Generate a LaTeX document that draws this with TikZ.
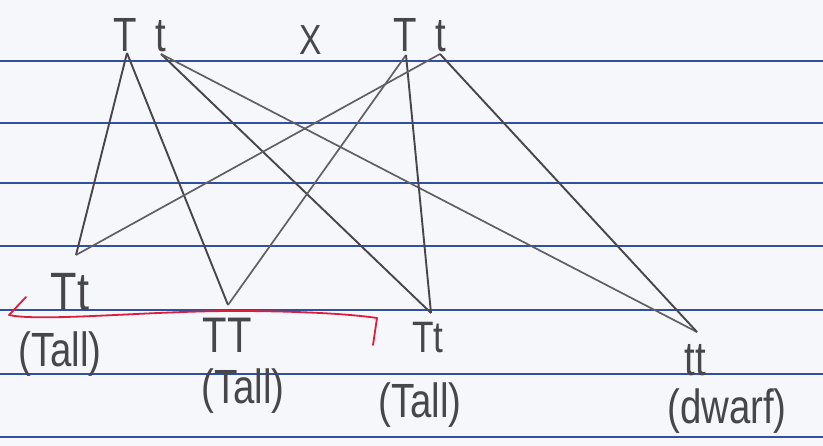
\documentclass[tikz,border=0pt]{standalone}
\usepackage{fontspec}
\setmainfont{Liberation Sans}
\usepackage{graphicx}
\definecolor{paper}{RGB}{246,247,251}
\definecolor{rulecol}{RGB}{52,78,160}
\definecolor{pencil}{RGB}{70,70,75}
\definecolor{pencilL}{RGB}{95,95,100}
\definecolor{redpen}{RGB}{220,30,60}
\newcommand{\hwtext}[1]{\scalebox{0.8}[1]{#1}}
\tikzset{
  rulestyle/.style={draw=rulecol, line width=2.2pt},
  hw/.style={text=pencil, inner sep=0pt, font=\fontsize{48}{48}\selectfont},
  hwbig/.style={hw, font=\fontsize{54}{54}\selectfont},
  hwmid/.style={hw, font=\fontsize{50}{50}\selectfont},
  hwsmall/.style={hw, font=\fontsize{44}{44}\selectfont},
  darkline/.style={draw=pencil, line width=1.9pt},
  lightline/.style={draw=pencilL, line width=1.7pt},
  redline/.style={draw=redpen, line width=1.8pt, line join=round, line cap=round}
}
\begin{document}
\begin{tikzpicture}[x=1pt,y=-1pt]
\useasboundingbox (0,0) rectangle (823,446);
\fill[paper] (0,0) rectangle (823,446);
\foreach \yy in {61,123,183,246,310,374,437} \draw[rulestyle] (0,\yy) -- (823,\yy);

% parents
\node[hw] (pTa) at (125,35) {\hwtext{T}};
\node[hw] (pta) at (161,36) {\hwtext{t}};
\node[hw, font=\fontsize{42}{42}\selectfont] (cross) at (311,40) {\hwtext{X}};
\node[hw] (pTb) at (405,35) {\hwtext{T}};
\node[hw] (ptb) at (441,36) {\hwtext{t}};

\coordinate (p1T) at (127,53);
\coordinate (p1t) at (161,54);
\coordinate (p2T) at (406,55);
\coordinate (p2t) at (440,54);

% children end points
\coordinate (A) at (76,255);
\coordinate (B) at (228,305);
\coordinate (C) at (431,313);
\coordinate (D) at (697,332);

% connectors
\draw[darkline] (p1T) -- (A);
\draw[darkline] (p1T) -- (B);
\draw[darkline] (p1t) -- (C);
\draw[lightline] (p1t) -- (D);
\draw[lightline] (p2T) -- (B);
\draw[darkline] (p2T) -- (C);
\draw[lightline] (p2t) -- (A);
\draw[darkline] (p2t) -- (D);

% child labels
\node[hwbig] (la) at (70,292) {\hwtext{Tt}};
\node[hw] (lat) at (60,354) {\hwtext{(Tall)}};
\node[hwmid] (lb) at (227,335) {\hwtext{TT}};
\node[hw] (lbt) at (243,391) {\hwtext{(Tall)}};
\node[hwsmall] (lc) at (428,338) {\hwtext{Tt}};
\node[hw] (lct) at (420,405) {\hwtext{(Tall)}};
\node[hw] (ld) at (695,360) {\hwtext{tt}};
\node[hw] (ldt) at (727,411) {\hwtext{(dwarf)}};

% red bracket
\draw[redline] (26,297) -- (9,315) .. controls (40,322) and (150,311) .. (233,311) .. controls (300,311) and (350,314) .. (377,318) -- (373,345);
\end{tikzpicture}
\end{document}
